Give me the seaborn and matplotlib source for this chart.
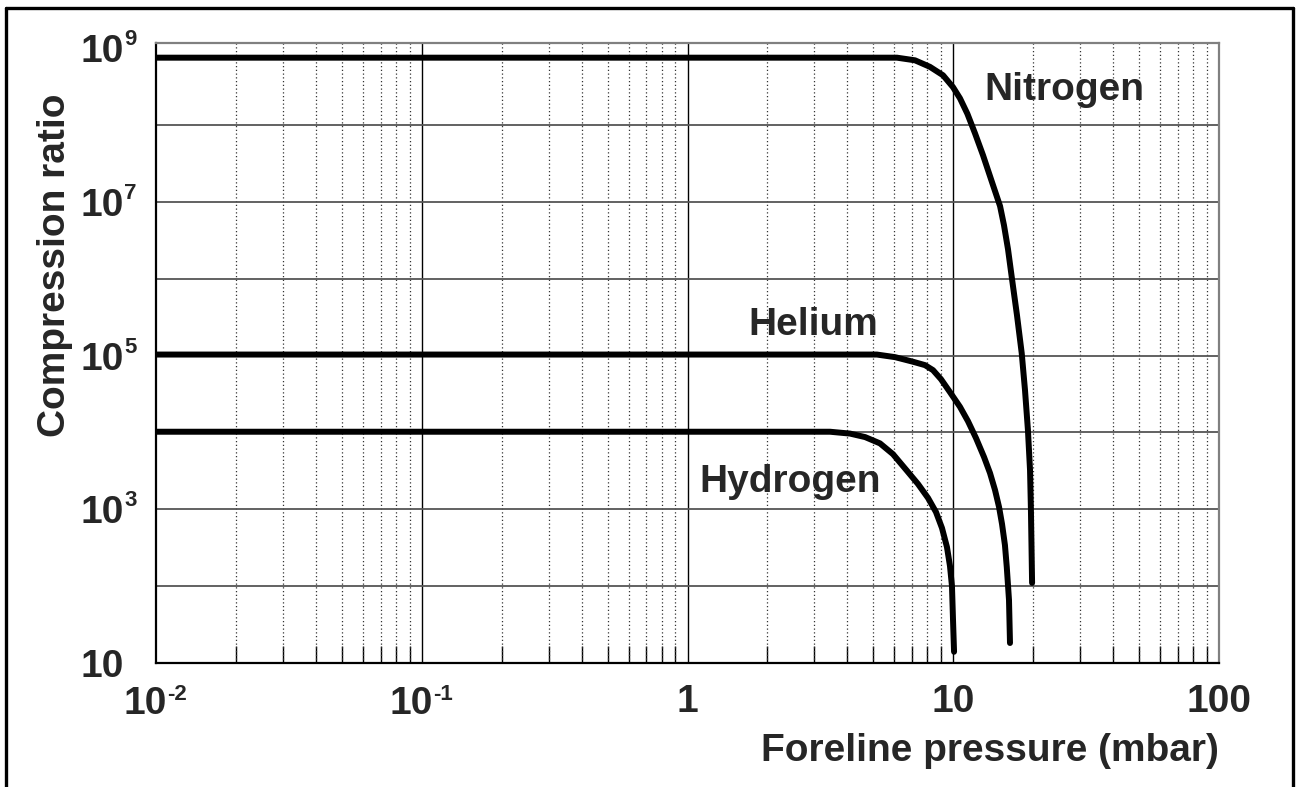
import numpy as np
import pandas as pd
import matplotlib
matplotlib.use("Agg")
import matplotlib.pyplot as plt
import seaborn as sns
from matplotlib.ticker import FixedLocator, FuncFormatter, NullFormatter, LogLocator
from matplotlib.lines import Line2D

# Compression ratio versus foreline pressure for three gases
nitrogen_p = [0.01, 6.14, 7.18, 8.17, 9.15, 9.98, 10.6, 11.3, 12.07, 12.94, 13.87,
              15.0, 15.52, 16.07, 16.6, 17.37, 18.1, 18.62, 19.1, 19.45, 19.6, 19.8]
nitrogen_k = [7.5e8, 7.5e8, 6.93e8, 5.7e8, 4.43e8, 3.1e8, 2.22e8, 1.4e8, 7.8e7, 4.04e7, 1.97e7,
              8.8e6, 4.96e6, 2.42e6, 1.05e6, 3.35e5, 1.07e5, 3.55e4, 1.07e4, 3.23e3, 1.0e3, 110]

helium_p = [0.01, 5.16, 6.04, 7.06, 7.83, 8.39, 8.99, 9.72, 10.6, 11.36, 12.18,
            13.06, 13.75, 14.36, 14.87, 15.26, 15.65, 15.9, 16.21, 16.35]
helium_k = [1.03e5, 1.03e5, 9.53e4, 8.3e4, 7.5e4, 6.46e4, 4.93e4, 3.34e4, 2.15e4, 1.4e4, 8.43e3,
            4.77e3, 2.96e3, 1.78e3, 1.07e3, 642, 342, 177, 65.9, 18.2]

hydrogen_p = [0.01, 3.44, 4.09, 4.66, 5.3, 5.93, 6.68, 7.37, 8.04, 8.61, 9.07,
              9.47, 9.72, 9.89, 9.98, 10.07]
hydrogen_k = [1.02e4, 1.02e4, 9.65e3, 8.69e3, 7.2e3, 5.22e3, 3.2e3, 2.13e3, 1.4e3, 920, 570,
              322, 183, 100, 36.2, 14]

gas_names = ["Nitrogen", "Helium", "Hydrogen"]
label_p = [26.1, 2.97, 2.43]
label_k = [2.1e8, 1.84e5, 1.67e3]

x_ticks = [0.01, 0.1, 1, 10, 100]
x_base = ["10", "10", "1", "10", "100"]
x_exp = ["-2", "-1", "", "", ""]
y_ticks = [10.0 ** e for e in range(1, 10)]
y_base = ["10", "", "10", "", "10", "", "10", "", "10"]
y_exp = ["", "", "3", "", "5", "", "7", "", "9"]

df = pd.concat([
    pd.DataFrame({"p": nitrogen_p, "k": nitrogen_k, "gas": "Nitrogen"}),
    pd.DataFrame({"p": helium_p, "k": helium_k, "gas": "Helium"}),
    pd.DataFrame({"p": hydrogen_p, "k": hydrogen_k, "gas": "Hydrogen"}),
], ignore_index=True)

sns.set_style("white")
plt.rcParams["font.family"] = ["Liberation Sans", "DejaVu Sans"]
plt.rcParams["font.weight"] = "bold"

FS = 28
EXP_FS = 16

fig = plt.figure(figsize=(12.96, 7.87), dpi=100)
ax = fig.add_axes([156 / 1296, 124 / 787, 1063 / 1296, 620 / 787])

ax.set_xscale("log")
ax.set_yscale("log")
ax.set_xlim(0.01, 100)
ax.set_ylim(10, 10 ** 9.066)

# grid: solid decades, dotted minor verticals
for xv in x_ticks[1:-1]:
    ax.axvline(xv, color="black", lw=1.0, zorder=1)
for dec in x_ticks[:-1]:
    for m in range(2, 10):
        ax.axvline(dec * m, color="#333333", lw=0.9, ls=(0, (1, 2)), zorder=1)
for yv in y_ticks[1:-1]:
    ax.axhline(yv, color="#555555", lw=1.3, zorder=1)

sns.lineplot(data=df, x="p", y="k", hue="gas", palette=["black"] * 3,
             estimator=None, sort=False, legend=False, lw=4.3, ax=ax, zorder=3)

for name, xp, yk in zip(gas_names, label_p, label_k):
    ax.text(xp, yk, name, fontsize=FS, fontweight="bold", ha="center",
            va="baseline", zorder=4)

# x axis: plain labels through the formatter, powers of ten built from base + exponent
ax.xaxis.set_major_locator(FixedLocator(x_ticks))
ax.xaxis.set_major_formatter(FuncFormatter(
    lambda v, pos: x_base[pos] if pos is not None and pos < len(x_base) and not x_exp[pos] else ""))
ax.xaxis.set_minor_locator(LogLocator(base=10, subs=np.arange(2, 10), numticks=20))
ax.xaxis.set_minor_formatter(NullFormatter())
for xv, b, e in zip(x_ticks, x_base, x_exp):
    if not e:
        continue
    ax.annotate(b, xy=(xv, 0), xycoords=("data", "axes fraction"),
                xytext=(11, -23), textcoords="offset pixels",
                ha="right", va="top", fontsize=FS, fontweight="bold", annotation_clip=False)
    ax.annotate(e, xy=(xv, 0), xycoords=("data", "axes fraction"),
                xytext=(11, -21), textcoords="offset pixels",
                ha="left", va="top", fontsize=EXP_FS, fontweight="bold", annotation_clip=False)

# y axis: "10" through the formatter, exponent set beside it
ax.yaxis.set_major_locator(FixedLocator(y_ticks))
ax.yaxis.set_major_formatter(FuncFormatter(
    lambda v, pos: y_base[pos] if pos is not None and pos < len(y_base) else ""))
ax.yaxis.set_minor_locator(FixedLocator([]))
for yv, e in zip(y_ticks, y_exp):
    if not e:
        continue
    ax.annotate(e, xy=(0, yv), xycoords=("axes fraction", "data"),
                xytext=(-32, 19), textcoords="offset pixels",
                ha="left", va="top", fontsize=EXP_FS, fontweight="bold", annotation_clip=False)

ax.tick_params(axis="x", which="major", length=0, pad=15, labelsize=FS)
ax.tick_params(axis="x", which="minor", length=12, width=1, direction="in",
               color="black", bottom=True, top=False)
ax.tick_params(axis="y", which="major", length=0, pad=23, labelsize=FS)
for lab in ax.get_xticklabels() + ax.get_yticklabels():
    lab.set_fontweight("bold")

ax.set_xlabel("Foreline pressure (mbar)", fontsize=FS, fontweight="bold")
ax.xaxis.set_label_coords(1.0, -0.113)
ax.xaxis.label.set_ha("right")
ax.set_ylabel("Compression ratio", fontsize=FS, fontweight="bold")
ax.yaxis.set_label_coords(-0.078, 0.642)

for side in ["left", "bottom"]:
    ax.spines[side].set_color("black")
    ax.spines[side].set_linewidth(1.6)
for side in ["top", "right"]:
    ax.spines[side].set_color("#808080")
    ax.spines[side].set_linewidth(1.6)

# outer frame (left, top, right)
frame_kw = dict(color="black", lw=2.4, transform=fig.transFigure, clip_on=False)
x0, x1, yt = 5.5 / 1296, 1292.5 / 1296, 1 - 8 / 787
fig.add_artist(Line2D([x0, x0], [0, yt], **frame_kw))
fig.add_artist(Line2D([x0, x1], [yt, yt], **frame_kw))
fig.add_artist(Line2D([x1, x1], [yt, 0], **frame_kw))

fig.savefig("out.png", dpi=100)
